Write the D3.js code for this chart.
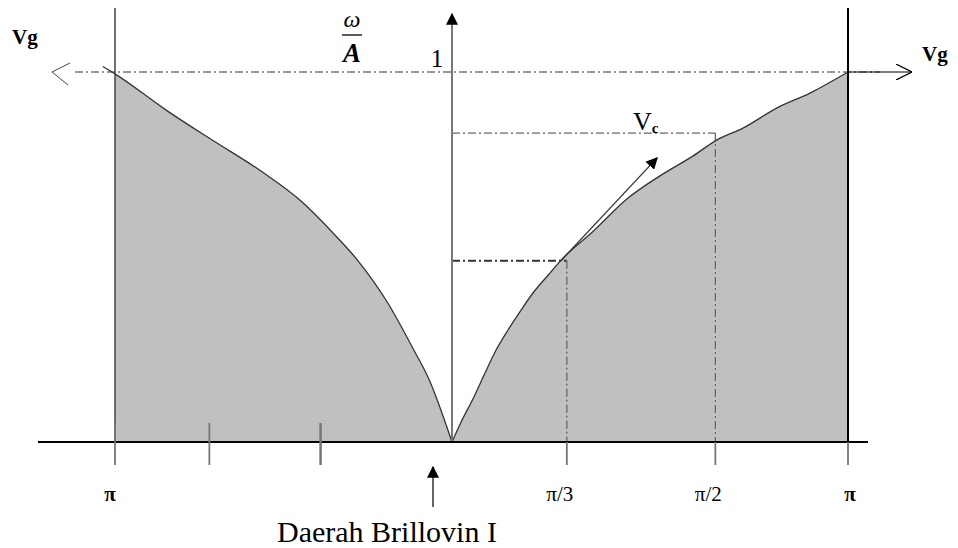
<!DOCTYPE html>
<html>
<head>
<meta charset="utf-8">
<script src="https://cdn.jsdelivr.net/npm/d3@7"></script>
<style>
  body { margin: 0; background: #fff; }
  svg { display: block; }
  text { font-family: "Liberation Serif", "DejaVu Serif", serif; fill: #000; }
</style>
</head>
<body>
<svg id="chart"></svg>
<script>
const width = 958;
const height = 548;

// dispersion curve: k (normalised to zone edge) and omega/A
const waveK = [-1.036, -1, -0.845, -0.708, -0.568, -0.449, -0.351, -0.280, -0.190, -0.113, -0.071, 0,
  0.023, 0.055, 0.081, 0.111, 0.141, 0.174, 0.204, 0.242, 0.275, 0.358, 0.443, 0.526, 0.610, 0.665,
  0.736, 0.821, 0.904, 1];
const omegaA = [1.015, 0.995, 0.895, 0.814, 0.733, 0.652, 0.563, 0.491, 0.375, 0.248, 0.175, 0,
  0.054, 0.121, 0.181, 0.248, 0.302, 0.356, 0.402, 0.450, 0.491, 0.571, 0.658, 0.720, 0.774, 0.814,
  0.849, 0.903, 0.943, 1];

const tickK = [-1, -0.72, -0.39, 0.29, 0.665, 1];
const tickLabels = ['π', '', '', 'π/3', 'π/2', 'π'];

// guide levels: [k, omega/A]
const guides = [[0.29, 0.49], [0.665, 0.835]];
// group velocity tangent arrow
const tangentFrom = [0.275, 0.49];
const tangentTo = [0.518, 0.768];

const svg = d3.select('#chart').attr('width', width).attr('height', height);

const x = d3.scaleLinear().domain([-1, 0, 1]).range([115, 452, 848]);
const y = d3.scaleLinear().domain([0, 1]).range([442, 72]);

const defs = svg.append('defs');
defs.append('marker').attr('id', 'solid').attr('viewBox', '0 0 10 10')
  .attr('refX', 9).attr('refY', 5).attr('markerWidth', 12).attr('markerHeight', 12)
  .attr('markerUnits', 'userSpaceOnUse').attr('orient', 'auto')
  .append('path').attr('d', 'M0,0L10,5L0,10z').attr('fill', '#000');
defs.append('marker').attr('id', 'open').attr('viewBox', '0 0 10 10')
  .attr('refX', 10).attr('refY', 5).attr('markerWidth', 16).attr('markerHeight', 16)
  .attr('markerUnits', 'userSpaceOnUse').attr('orient', 'auto')
  .append('path').attr('d', 'M0,0L10,5L0,10').attr('fill', 'none').attr('stroke', '#000').attr('stroke-width', 0.8);

const points = waveK.map((k, i) => ({k: k, w: omegaA[i]}));
const leftHalf = points.filter(d => d.k <= 0);
const rightHalf = points.filter(d => d.k >= 0);

const area = d3.area().x(d => x(d.k)).y0(y(0)).y1(d => y(d.w)).curve(d3.curveMonotoneX);
const line = d3.line().x(d => x(d.k)).y(d => y(d.w)).curve(d3.curveMonotoneX);

// shaded area under the curve
[leftHalf.filter(d => d.k >= -1), rightHalf].forEach(half => {
  svg.append('path').datum(half).attr('fill', '#c0c0c0').attr('d', area);
});

const dashDot = '8,3,2,3';

// horizontal level at 1
svg.append('line')
  .attr('x1', 75).attr('x2', 880).attr('y1', y(1)).attr('y2', y(1))
  .attr('stroke', '#777').attr('stroke-width', 1.6).attr('stroke-dasharray', dashDot);

// guide lines
guides.forEach((g, i) => {
  svg.append('line')
    .attr('x1', x(0)).attr('x2', x(g[0])).attr('y1', y(g[1])).attr('y2', y(g[1]))
    .attr('stroke', i === 0 ? '#333' : '#666').attr('stroke-width', i === 0 ? 2 : 1.2)
    .attr('stroke-dasharray', dashDot);
  svg.append('line')
    .attr('x1', x(g[0])).attr('x2', x(g[0])).attr('y1', y(g[1])).attr('y2', y(0))
    .attr('stroke', '#666').attr('stroke-width', 1.3).attr('stroke-dasharray', dashDot);
});

// curve
[leftHalf, rightHalf].forEach(half => {
  svg.append('path').datum(half)
    .attr('fill', 'none').attr('stroke', '#333').attr('stroke-width', 1.3)
    .attr('d', line);
});

// tangent arrow
svg.append('line')
  .attr('x1', x(tangentFrom[0])).attr('y1', y(tangentFrom[1]))
  .attr('x2', x(tangentTo[0])).attr('y2', y(tangentTo[1]))
  .attr('stroke', '#333').attr('stroke-width', 1.3).attr('marker-end', 'url(#solid)');

// zone boundary verticals
svg.append('line').attr('x1', x(-1)).attr('x2', x(-1)).attr('y1', 8).attr('y2', y(0))
  .attr('stroke', '#444').attr('stroke-width', 1.5);
svg.append('line').attr('x1', x(1)).attr('x2', x(1)).attr('y1', 8).attr('y2', y(0))
  .attr('stroke', '#000').attr('stroke-width', 2);

// vertical axis
svg.append('line').attr('x1', x(0)).attr('x2', x(0)).attr('y1', y(0)).attr('y2', 14)
  .attr('stroke', '#777').attr('stroke-width', 2).attr('marker-end', 'url(#solid)');

// baseline
svg.append('line').attr('x1', 38).attr('x2', 868).attr('y1', y(0)).attr('y2', y(0))
  .attr('stroke', '#000').attr('stroke-width', 2.2);

// ticks
const ticks = svg.append('g');
tickK.forEach((k, i) => {
  ticks.append('line')
    .attr('x1', x(k)).attr('x2', x(k)).attr('y1', k < 0 ? 423 : y(0)).attr('y2', 465)
    .attr('stroke', '#777').attr('stroke-width', i === 2 ? 2.5 : 1.8);
  ticks.append('text')
    .attr('x', x(k) + (i === 0 ? -5 : (i === 5 ? 2 : -7))).attr('y', 501)
    .attr('text-anchor', 'middle').attr('font-size', 21)
    .attr('font-weight', tickLabels[i] === 'π' ? 'bold' : 'normal')
    .text(tickLabels[i]);
});

// Vg arrows
svg.append('path').attr('d', `M70,${y(1) - 9}L52,${y(1)}L68,${y(1) + 13}`)
  .attr('fill', 'none').attr('stroke', '#444').attr('stroke-width', 1);
svg.append('line').attr('x1', x(1)).attr('x2', 912).attr('y1', y(1)).attr('y2', y(1))
  .attr('stroke', '#000').attr('stroke-width', 1.2).attr('marker-end', 'url(#open)');

svg.append('text').attr('x', 12).attr('y', 44).attr('font-size', 21).attr('font-weight', 'bold').text('Vg');
svg.append('text').attr('x', 922).attr('y', 61).attr('font-size', 21).attr('font-weight', 'bold').text('Vg');

// omega / A label
svg.append('text').attr('x', 352).attr('y', 27).attr('text-anchor', 'middle')
  .attr('font-size', 24).attr('font-style', 'italic').text('ω');
svg.append('line').attr('x1', 342).attr('x2', 362).attr('y1', 35).attr('y2', 35)
  .attr('stroke', '#000').attr('stroke-width', 1.3);
svg.append('text').attr('x', 352).attr('y', 62).attr('text-anchor', 'middle')
  .attr('font-size', 27).attr('font-style', 'italic').attr('font-weight', 'bold').text('A');

svg.append('text').attr('x', 437).attr('y', 67).attr('text-anchor', 'middle')
  .attr('font-size', 25).text('1');

// Vc label
const vc = svg.append('text').attr('x', 633).attr('y', 130).attr('font-size', 26);
vc.append('tspan').text('V');
vc.append('tspan').attr('font-size', 15).attr('font-weight', 'bold').attr('dy', 3).text('c');

// Brillouin zone pointer
svg.append('line').attr('x1', 433).attr('x2', 433).attr('y1', 507).attr('y2', 467)
  .attr('stroke', '#000').attr('stroke-width', 1.2).attr('marker-end', 'url(#solid)');
svg.append('text').attr('x', 277).attr('y', 542).attr('font-size', 30).text('Daerah Brillovin I');
</script>
</body>
</html>
